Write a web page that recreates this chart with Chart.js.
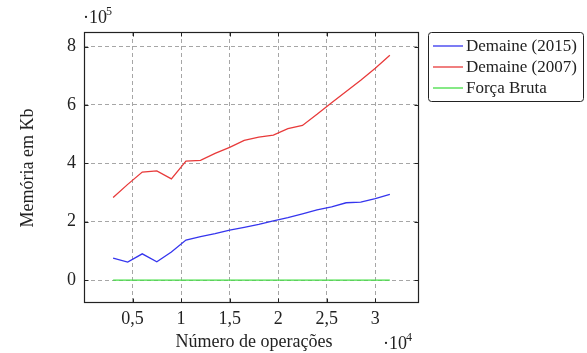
<!DOCTYPE html>
<html>
<head>
<meta charset="utf-8">
<script src="https://cdn.jsdelivr.net/npm/chart.js@4/dist/chart.umd.min.js"></script>
<style>
  html, body { margin: 0; padding: 0; background: #fff; }
  #wrap { width: 587px; height: 353px; position: relative; }
</style>
</head>
<body>
<div id="wrap"><canvas id="c" width="587" height="353"></canvas></div>
<script>
// Number of operations (x) and memory in Kb (y) for each algorithm
const operacoes = [3000, 4500, 6000, 7500, 9000, 10500, 12000, 13500, 15000, 16500,
                   18000, 19500, 21000, 22500, 24000, 25500, 27000, 28500, 30000, 31500];
const demaine2015 = [75400, 62000, 90000, 63000, 96000, 137000, 149000, 159000, 171000, 181000,
                     191000, 203000, 214000, 227000, 241000, 251000, 265000, 267000, 279000, 294000];
const demaine2007 = [283000, 328000, 370000, 374000, 347000, 408000, 410000, 434000, 455000, 479000,
                     490000, 497000, 519000, 530000, 568000, 608000, 646000, 685000, 726000, 770000];
const forcaBruta = [0, 0, 0, 0, 0, 0, 0, 0, 0, 0,
                    0, 0, 0, 0, 0, 0, 0, 0, 0, 0];

const seriesNames = ['Demaine (2015)', 'Demaine (2007)', 'Força Bruta'];
const xTicks = [5000, 10000, 15000, 20000, 25000, 30000];
const yTicks = [0, 200000, 400000, 600000, 800000];

const SERIF = '"Liberation Serif", "DejaVu Serif", serif';
const colors = ['#3535ee', '#e83a3a', '#44dd44'];

const toPoints = ys => ys.map((y, i) => ({ x: operacoes[i], y }));
const fmt = v => String(v).replace('.', ',');

// Frame with inner tick marks, exponent markers, axis titles and legend box
const decorations = {
  id: 'decorations',
  afterDraw(chart) {
    const { ctx, chartArea: a, scales } = chart;
    const L = Math.round(a.left) + 0.5, T = Math.round(a.top) + 0.5;
    const R = Math.round(a.right) + 0.5, B = Math.round(a.bottom) + 0.5;
    ctx.save();
    ctx.strokeStyle = '#222';
    ctx.lineWidth = 1.2;
    ctx.strokeRect(L, T, R - L, B - T);

    // short solid ticks on the inside of all four sides
    ctx.lineWidth = 1;
    ctx.beginPath();
    xTicks.forEach(v => {
      const x = Math.round(scales.x.getPixelForValue(v)) + 0.5;
      ctx.moveTo(x, B); ctx.lineTo(x, B - 4);
      ctx.moveTo(x, T); ctx.lineTo(x, T + 4);
    });
    yTicks.forEach(v => {
      const y = Math.round(scales.y.getPixelForValue(v)) + 0.5;
      ctx.moveTo(L, y); ctx.lineTo(L + 4, y);
      ctx.moveTo(R, y); ctx.lineTo(R - 4, y);
    });
    ctx.stroke();

    ctx.fillStyle = '#222';
    ctx.textBaseline = 'alphabetic';
    // exponent on y axis
    ctx.font = '18px ' + SERIF;
    ctx.textAlign = 'left';
    ctx.fillText('\u00b710', a.left - 1, 23);
    ctx.font = '12px ' + SERIF;
    ctx.fillText('5', a.left + 22, 15);
    // exponent on x axis
    ctx.font = '18px ' + SERIF;
    ctx.fillText('\u00b710', 383, 349);
    ctx.font = '12px ' + SERIF;
    ctx.fillText('4', 406, 341);

    // axis titles
    ctx.font = '18px ' + SERIF;
    ctx.textAlign = 'center';
    ctx.fillText('Número de operações', (a.left + a.right) / 2 + 3, 347);
    ctx.save();
    ctx.translate(33, (a.top + a.bottom) / 2 + 1);
    ctx.rotate(-Math.PI / 2);
    ctx.fillText('Memória em Kb', 0, 0);
    ctx.restore();

    // legend
    const lx = 428.5, ly = 32.5, lw = 155, lh = 69;
    ctx.beginPath();
    ctx.roundRect(lx, ly, lw, lh, 3);
    ctx.fillStyle = '#fff';
    ctx.fill();
    ctx.strokeStyle = '#222';
    ctx.lineWidth = 1;
    ctx.stroke();
    ctx.font = '17px ' + SERIF;
    ctx.textAlign = 'left';
    ctx.textBaseline = 'middle';
    chart.data.datasets.forEach((ds, i) => {
      const y = 46 + i * 21;
      ctx.strokeStyle = ds.borderColor;
      ctx.lineWidth = 1.3;
      ctx.beginPath();
      ctx.moveTo(433, y);
      ctx.lineTo(463, y);
      ctx.stroke();
      ctx.fillStyle = '#222';
      ctx.fillText(ds.label, 466, y + 1);
    });
    ctx.restore();
  }
};

new Chart(document.getElementById('c'), {
  type: 'line',
  data: {
    datasets: [
      { label: seriesNames[0], data: toPoints(demaine2015), borderColor: colors[0] },
      { label: seriesNames[1], data: toPoints(demaine2007), borderColor: colors[1] },
      { label: seriesNames[2], data: toPoints(forcaBruta), borderColor: colors[2] }
    ].map(d => Object.assign(d, { borderWidth: 1.3, pointRadius: 0, tension: 0, fill: false }))
  },
  options: {
    responsive: false,
    animation: false,
    events: [],
    layout: { padding: { left: 0, top: 32, right: 169, bottom: 0 } },
    plugins: { legend: { display: false }, tooltip: { enabled: false } },
    scales: {
      x: {
        type: 'linear',
        min: 0,
        max: 34400,
        afterBuildTicks: s => { s.ticks = xTicks.map(v => ({ value: v })); },
        afterFit: s => { s.height = 51; },
        ticks: {
          color: '#222',
          font: { family: SERIF, size: 18 },
          padding: 6,
          maxRotation: 0,
          callback: v => fmt(v / 10000)
        },
        grid: { color: '#a6a6a6', lineWidth: 1, drawTicks: false },
        border: { display: false, dash: [4, 3] }
      },
      y: {
        type: 'linear',
        min: -75000,
        max: 850000,
        afterBuildTicks: s => { s.ticks = yTicks.map(v => ({ value: v })); },
        afterFit: s => { s.width = 84; },
        ticks: {
          color: '#222',
          font: { family: SERIF, size: 18 },
          padding: 8,
          callback: v => fmt(v / 100000)
        },
        grid: { color: '#a6a6a6', lineWidth: 1, drawTicks: false },
        border: { display: false, dash: [4, 3] }
      }
    }
  },
  plugins: [decorations]
});
</script>
</body>
</html>
